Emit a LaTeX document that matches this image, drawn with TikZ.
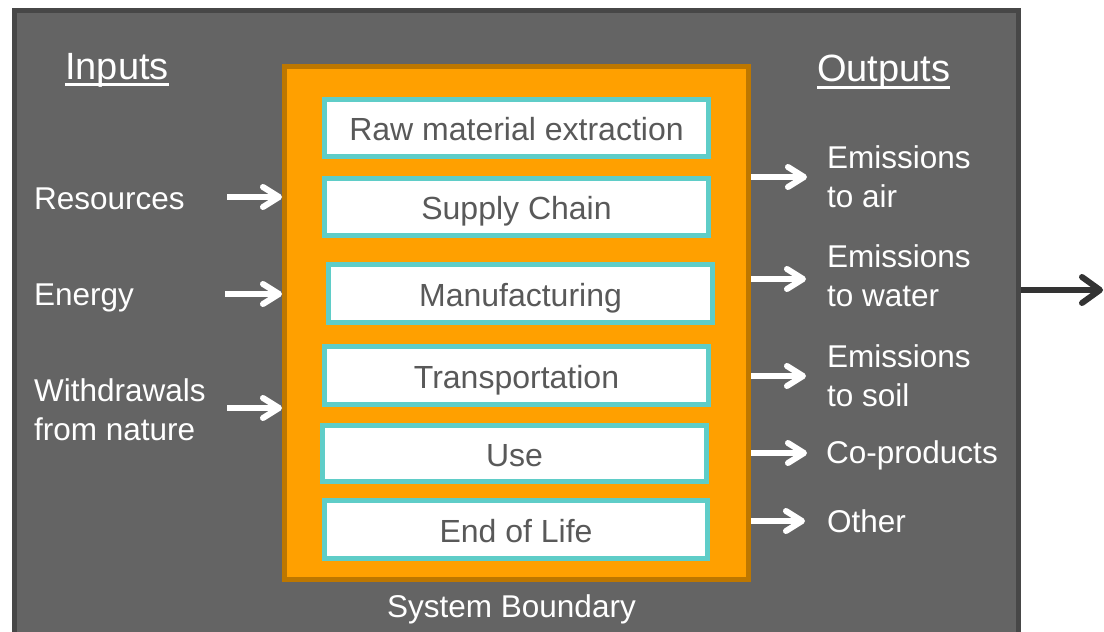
\documentclass[tikz,border=0pt]{standalone}
\usepackage{fontspec}
\setmainfont{Liberation Sans}
\usetikzlibrary{arrows.meta}
\definecolor{bggray}{HTML}{646464}
\definecolor{bgborder}{HTML}{474747}
\definecolor{orangefill}{HTML}{FFA000}
\definecolor{orangeborder}{HTML}{BD7700}
\definecolor{tealb}{HTML}{5FCDC8}
\definecolor{boxtext}{HTML}{595959}
\definecolor{darkarrow}{HTML}{333333}
\begin{document}
\begin{tikzpicture}[x=1pt,y=-1pt,
  body/.style={font=\fontsize{31.5}{38.5}\selectfont, text=white, inner sep=0pt},
  head/.style={font=\fontsize{38}{44}\selectfont, text=white, inner sep=0pt},
  stagebox/.style={draw=tealb, line width=5pt, fill=white, text=boxtext,
    font=\fontsize{32}{36}\selectfont, minimum width=384pt,
    text height=25pt, text depth=0pt, inner sep=0pt},
  flowarrow/.style={draw=white, line width=6pt,
    -{Straight Barb[length=16pt,width=20pt,round]}},
  bigarrow/.style={draw=darkarrow, line width=6pt,
    -{Straight Barb[length=18pt,width=26pt,round]}},
]
\useasboundingbox (0,0) rectangle (1104,632);
\fill[white] (0,0) rectangle (1104,632);
\clip (0,0) rectangle (1104,632);

% environment
\node[draw=bgborder, fill=bggray, line width=5pt, minimum width=1004.5pt,
  minimum height=649.5pt, inner sep=0pt] (env) at (516.25,335.25) {};

% system boundary
\node[draw=orangeborder, fill=orangefill, line width=5pt, minimum width=464pt,
  minimum height=513pt, inner sep=0pt] (sys) at (516.5,323) {};

% stages
\node[stagebox, minimum height=57pt] (s1) at (516.5,128) {Raw material extraction};
\node[stagebox, minimum height=57pt] (s2) at (516.5,207) {Supply Chain};
\node[stagebox, minimum height=58pt] (s3) at (520.5,293.5) {Manufacturing};
\node[stagebox, minimum height=58pt] (s4) at (516.5,375.5) {Transportation};
\node[stagebox, minimum height=56pt] (s5) at (514.5,453.5) {Use};
\node[stagebox, minimum height=58pt, minimum width=383pt] (s6) at (516,529.5) {End of Life};

% headers
\node[head, anchor=base west] (inp) at (65,79) {Inputs};
\draw[white, line width=3pt] ([yshift=-5pt]inp.base west) -- ([yshift=-5pt]inp.base east);
\node[head, anchor=base west] (outp) at (817,81) {Outputs};
\draw[white, line width=3pt] ([yshift=-6pt]outp.base west) -- ([yshift=-6pt]outp.base east);

% inputs
\node[body, anchor=base west] (res) at (34,209) {Resources};
\node[body, anchor=base west] (ene) at (34,305) {Energy};
\node[body, anchor=base west, align=left] (wit) at (34,440) {Withdrawals\\from nature};

% outputs
\node[body, anchor=base west, align=left] (oair) at (827,207) {Emissions\\to air};
\node[body, anchor=base west, align=left] (owat) at (827,306) {Emissions\\to water};
\node[body, anchor=base west, align=left] (osoi) at (827,406) {Emissions\\to soil};
\node[body, anchor=base west] (ocop) at (826,463) {Co-products};
\node[body, anchor=base west] (ooth) at (827,532) {Other};

\node[body, anchor=base] (sbl) at (511.5,617) {System Boundary};

% input arrows
\coordinate (a1) at (227,197);
\coordinate (a2) at (225,294);
\coordinate (a3) at (227,408);
\draw[flowarrow] (a1) -- (a1 -| sys.west);
\draw[flowarrow] (a2) -- (a2 -| sys.west);
\draw[flowarrow] (a3) -- (a3 -| sys.west);

% output arrows
\coordinate (b1) at (807,177);
\coordinate (b2) at (806,279);
\coordinate (b3) at (806,376);
\coordinate (b4) at (807,453);
\coordinate (b5) at (805,521);
\draw[flowarrow] (b1 -| sys.east) -- (b1);
\draw[flowarrow] (b2 -| sys.east) -- (b2);
\draw[flowarrow] (b3 -| sys.east) -- (b3);
\draw[flowarrow] (b4 -| sys.east) -- (b4);
\draw[flowarrow] (b5 -| sys.east) -- (b5);

% outgoing arrow
\coordinate (c1) at (1103,290);
\draw[bigarrow] (c1 -| env.east) -- (c1);
\end{tikzpicture}
\end{document}
